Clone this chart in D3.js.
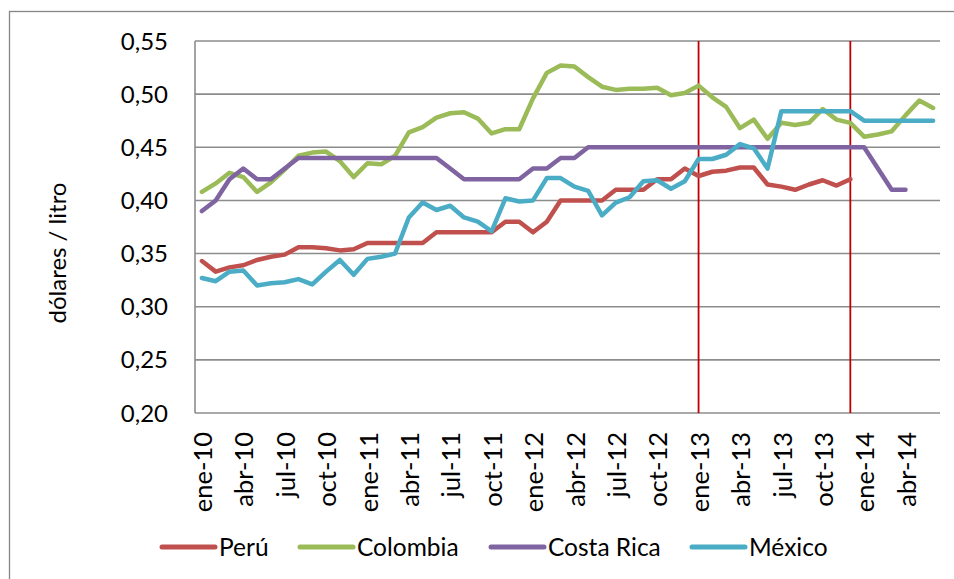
<!DOCTYPE html>
<html><head><meta charset="utf-8">
<script src="https://cdn.jsdelivr.net/npm/d3@7/dist/d3.min.js"></script>
<style>
html,body{margin:0;padding:0;background:#fff;}
svg{display:block;}
text{font-family:Lato,"Open Sans",sans-serif;fill:#000;}
</style></head>
<body>
<svg id="chart" width="954" height="579"></svg>
<script>
const months = [
 "ene-10","feb-10","mar-10","abr-10","may-10","jun-10","jul-10","ago-10","sep-10","oct-10","nov-10","dic-10",
 "ene-11","feb-11","mar-11","abr-11","may-11","jun-11","jul-11","ago-11","sep-11","oct-11","nov-11","dic-11",
 "ene-12","feb-12","mar-12","abr-12","may-12","jun-12","jul-12","ago-12","sep-12","oct-12","nov-12","dic-12",
 "ene-13","feb-13","mar-13","abr-13","may-13","jun-13","jul-13","ago-13","sep-13","oct-13","nov-13","dic-13",
 "ene-14","feb-14","mar-14","abr-14","may-14","jun-14"];
const tickLabels = ["ene-10","abr-10","jul-10","oct-10","ene-11","abr-11","jul-11","oct-11","ene-12","abr-12","jul-12","oct-12","ene-13","abr-13","jul-13","oct-13","ene-14","abr-14"];
const yTicks = [0.20,0.25,0.30,0.35,0.40,0.45,0.50,0.55];
const markerMonths = ["ene-13","dic-13"];

const peru = [0.343,0.333,0.337,0.339,0.344,0.347,0.349,0.356,0.356,0.355,0.353,0.354,
 0.360,0.360,0.360,0.360,0.360,0.370,0.370,0.370,0.370,0.370,0.380,0.380,
 0.370,0.380,0.400,0.400,0.400,0.400,0.410,0.410,0.410,0.420,0.420,0.430,
 0.423,0.427,0.428,0.431,0.431,0.415,0.413,0.410,0.415,0.419,0.414,0.420,
 null,null,null,null,null,null];
const colombia = [0.408,0.416,0.426,0.422,0.408,0.417,0.429,0.442,0.445,0.446,0.437,0.422,
 0.435,0.434,0.442,0.464,0.469,0.478,0.482,0.483,0.477,0.463,0.467,0.467,
 0.496,0.520,0.527,0.526,0.516,0.507,0.504,0.505,0.505,0.506,0.499,0.501,
 0.508,0.497,0.488,0.468,0.476,0.458,0.473,0.471,0.473,0.486,0.476,0.473,
 0.460,0.462,0.465,0.480,0.494,0.487];
const costaRica = [0.39,0.40,0.42,0.43,0.42,0.42,0.43,0.44,0.44,0.44,0.44,0.44,
 0.44,0.44,0.44,0.44,0.44,0.44,0.43,0.42,0.42,0.42,0.42,0.42,
 0.43,0.43,0.44,0.44,0.45,0.45,0.45,0.45,0.45,0.45,0.45,0.45,
 0.45,0.45,0.45,0.45,0.45,0.45,0.45,0.45,0.45,0.45,0.45,0.45,
 0.45,0.43,0.41,0.41,null,null];
const mexico = [0.327,0.324,0.333,0.334,0.320,0.322,0.323,0.326,0.321,0.333,0.344,0.330,
 0.345,0.347,0.350,0.384,0.398,0.391,0.395,0.384,0.380,0.371,0.402,0.399,
 0.400,0.421,0.421,0.413,0.409,0.386,0.398,0.403,0.418,0.419,0.411,0.418,
 0.439,0.439,0.443,0.453,0.449,0.430,0.484,0.484,0.484,0.484,0.484,0.484,
 0.475,0.475,0.475,0.475,0.475,0.475];

const seriesNames = ["Perú","Colombia","Costa Rica","México"];
const seriesColors = ["#C0504D","#9BBB59","#8064A2","#4BACC6"];
const seriesValues = [peru, colombia, costaRica, mexico];

const svg = d3.select("#chart");
const L = 195, R = 940, T = 41, B = 413;

// outer chart border
svg.append("rect").attr("x",9.5).attr("y",11.5).attr("width",980).attr("height",620)
  .attr("fill","none").attr("stroke","#868686").attr("stroke-width",1.3);

const x = d3.scaleBand().domain(months).range([L,R]).paddingInner(0).paddingOuter(0);
const cx = m => x(m) + x.bandwidth()/2;
const y = d3.scaleLinear().domain([0.20,0.55]).range([B,T]);

// gridlines
svg.append("g").selectAll("line").data(yTicks).join("line")
  .attr("x1",L).attr("x2",R).attr("y1",d=>y(d)).attr("y2",d=>y(d))
  .attr("stroke","#8c8c8c").attr("stroke-width",1.6);

// y axis line
svg.append("line").attr("x1",L).attr("x2",L).attr("y1",T).attr("y2",B)
  .attr("stroke","#8c8c8c").attr("stroke-width",1.6);

// y tick labels
const fmt = d => d3.format(".2f")(d).replace(".",",");
svg.append("g").selectAll("text").data(yTicks).join("text")
  .attr("x",168).attr("y",d=>y(d)).attr("dy","0.36em")
  .attr("text-anchor","end").attr("font-size",24).text(fmt);

// y title
svg.append("text").attr("transform","translate(66,253) rotate(-90)")
  .attr("text-anchor","middle").attr("font-size",24).text("dólares / litro");

// x tick labels
svg.append("g").selectAll("text").data(tickLabels).join("text")
  .attr("transform",d=>`translate(${cx(d)+1},432) rotate(-90)`)
  .attr("dy","0.36em").attr("text-anchor","end").attr("font-size",25.5).text(d=>d);

// vertical red markers
svg.append("g").selectAll("line").data(markerMonths).join("line")
  .attr("x1",d=>cx(d)).attr("x2",d=>cx(d)).attr("y1",T).attr("y2",B)
  .attr("stroke","#C00000").attr("stroke-width",1.8);

// series lines
const line = d3.line().defined(d=>d.v!=null).x(d=>cx(d.m)).y(d=>y(d.v));
seriesValues.forEach((vals,i)=>{
  const data = months.map((m,j)=>({m, v: vals[j]}));
  svg.append("path").datum(data).attr("d",line)
    .attr("fill","none").attr("stroke",seriesColors[i]).attr("stroke-width",4.5)
    .attr("stroke-linejoin","round").attr("stroke-linecap","round");
});

// legend
const legX = [162, 300, 491, 692];
const lg = svg.append("g");
seriesNames.forEach((n,i)=>{
  lg.append("line").attr("x1",legX[i]).attr("x2",legX[i]+53).attr("y1",547).attr("y2",547)
    .attr("stroke",seriesColors[i]).attr("stroke-width",5).attr("stroke-linecap","round");
  lg.append("text").attr("x",legX[i]+57).attr("y",547).attr("dy","0.36em")
    .attr("font-size",24.5).text(n);
});
</script>
</body></html>
